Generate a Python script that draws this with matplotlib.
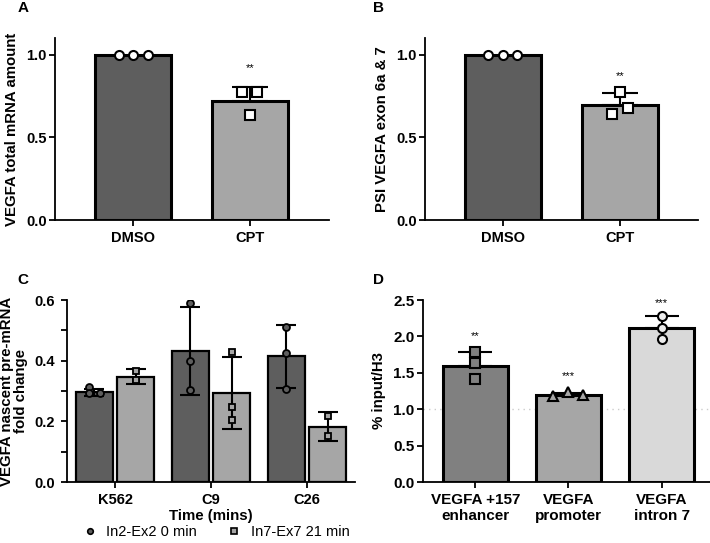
import numpy as np
import matplotlib.pyplot as plt

plt.rcParams['font.family'] = ['Liberation Sans', 'DejaVu Sans']

# ---- data ----
ab_groups = ["DMSO", "CPT"]
a_means = [1.0, 0.72]
a_err_top = [1.0, 0.806]
a_dmso_pts = [1.0, 1.0, 1.0]
a_cpt_pts = [0.772, 0.772, 0.636]

b_means = [1.0, 0.695]
b_err_top = [1.0, 0.766]
b_dmso_pts = [1.0, 1.0, 1.0]
b_cpt_pts = [0.772, 0.68, 0.642]

c_groups = ["K562", "C9", "C26"]
c_in2_means = [0.296, 0.432, 0.415]
c_in2_lo = [0.285, 0.287, 0.31]
c_in2_hi = [0.308, 0.578, 0.518]
c_in2_pts = [[0.313, 0.294, 0.295], [0.59, 0.40, 0.304], [0.512, 0.426, 0.307]]
c_in7_means = [0.347, 0.293, 0.182]
c_in7_lo = [0.322, 0.175, 0.135]
c_in7_hi = [0.372, 0.413, 0.232]
c_in7_pts = [[0.366, 0.333, 0.337], [0.43, 0.248, 0.205], [0.218, 0.152]]

d_groups = ["VEGFA +157\nenhancer", "VEGFA\npromoter", "VEGFA\nintron 7"]
d_means = [1.60, 1.20, 2.11]
d_err_top = [1.79, 1.22, 2.28]
d_pts = [[1.786, 1.63, 1.41], [1.18, 1.24, 1.195], [2.28, 2.12, 1.97]]
d_stars = ["**", "***", "***"]

DARK = "#5e5e5e"
LIGHT = "#a6a6a6"
D_COLORS = ["#808080", "#a6a6a6", "#d9d9d9"]

fig = plt.figure(figsize=(7.1, 5.43), dpi=100)


def style_axes(ax, size=10.5):
    for s in ["top", "right"]:
        ax.spines[s].set_visible(False)
    for s in ["left", "bottom"]:
        ax.spines[s].set_linewidth(1.3)
    ax.tick_params(width=1.3, length=4.5, labelsize=size)
    ax.tick_params(axis="y", pad=1.5)
    for lab in ax.get_xticklabels() + ax.get_yticklabels():
        lab.set_fontweight("bold")


def panel_ab(rect, means, err_top, p0, p1, ylabel, star_y, letter, lx):
    ax = fig.add_axes(rect)
    x = np.arange(len(ab_groups))
    ax.bar(x, means, width=0.65, color=[DARK, LIGHT], edgecolor="black", linewidth=2.2, zorder=2)
    for xi, m, t in zip(x, means, err_top):
        if t > m:
            ax.errorbar(xi, m, yerr=[[0], [t - m]], fmt="none", ecolor="black",
                        elinewidth=1.5, capsize=13, capthick=1.5, zorder=3)
    ax.plot(x[0] + np.array([-0.124, 0, 0.124]), p0, "o", ms=6.5, mfc="white",
            mec="black", mew=1.5, zorder=4)
    offs = [-0.07, 0.06, 0.0] if letter == "A" else [0.0, 0.07, -0.07]
    ax.plot(x[1] + np.array(offs), p1, "s", ms=6.5, mfc="white",
            mec="black", mew=1.5, zorder=4)
    ax.text(x[1], star_y, "**", ha="center", va="center", fontsize=8)
    ax.set_xlim(-0.667, 1.67)
    ax.set_ylim(0, 1.1)
    ax.set_yticks([0, 0.5, 1.0])
    ax.set_yticklabels(["0.0", "0.5", "1.0"])
    ax.set_xticks(x)
    ax.set_xticklabels(ab_groups)
    ax.set_ylabel(ylabel, fontsize=10.8, fontweight="bold", labelpad=5)
    style_axes(ax)
    fig.text(lx, 0.985, letter, fontsize=11, fontweight="bold", va="center")
    return ax


panel_ab([0.0775, 0.5948, 0.3855, 0.335], a_means, a_err_top, a_dmso_pts, a_cpt_pts,
         "VEGFA total mRNA amount", 0.92, "A", 0.025)
panel_ab([0.5986, 0.5948, 0.3845, 0.335], b_means, b_err_top, b_dmso_pts, b_cpt_pts,
         "PSI VEGFA exon 6a & 7", 0.87, "B", 0.525)

# ---- panel C ----
axc = fig.add_axes([0.0944, 0.1123, 0.4056, 0.3352])
xc = np.arange(len(c_groups))
off = 0.215
axc.bar(xc - off, c_in2_means, width=0.39, color=DARK, edgecolor="black", linewidth=1.6, zorder=2)
axc.bar(xc + off, c_in7_means, width=0.39, color=LIGHT, edgecolor="black", linewidth=1.6, zorder=2)
for i in range(len(c_groups)):
    axc.errorbar(xc[i] - off, c_in2_means[i],
                 yerr=[[c_in2_means[i] - c_in2_lo[i]], [c_in2_hi[i] - c_in2_means[i]]],
                 fmt="none", ecolor="black", elinewidth=1.5, capsize=7, capthick=1.5, zorder=3)
    axc.errorbar(xc[i] + off, c_in7_means[i],
                 yerr=[[c_in7_means[i] - c_in7_lo[i]], [c_in7_hi[i] - c_in7_means[i]]],
                 fmt="none", ecolor="black", elinewidth=1.5, capsize=7, capthick=1.5, zorder=3)
    px = np.full(len(c_in2_pts[i]), xc[i] - off)
    if i == 0:
        px = px + np.array([-0.06, -0.06, 0.06])
    axc.plot(px, c_in2_pts[i], "o", ms=5, mfc=DARK, mec="black", mew=1.3, zorder=4)
    axc.plot(np.full(len(c_in7_pts[i]), xc[i] + off), c_in7_pts[i], "s", ms=4.5,
             mfc=LIGHT, mec="black", mew=1.3, zorder=4)
axc.set_xlim(-0.5, 2.5)
axc.set_ylim(0, 0.6)
axc.set_yticks([0, 0.2, 0.4, 0.6])
axc.set_yticklabels(["0.0", "0.2", "0.4", "0.6"])
axc.set_yticks([0.1, 0.3, 0.5], minor=True)
axc.set_xticks(xc)
axc.set_xticklabels(c_groups)
axc.set_xlabel("Time (mins)", fontsize=10.8, fontweight="bold", labelpad=1)
axc.set_ylabel("VEGFA nascent pre-mRNA\nfold change", fontsize=10.8, fontweight="bold",
               labelpad=5, linespacing=1.0)
style_axes(axc)
axc.tick_params(which="minor", length=4.5, width=1.3)
axc.tick_params(axis="y", pad=4)
fig.text(0.025, 0.485, "C", fontsize=11, fontweight="bold", va="center")

h1, = axc.plot([], [], "o", ms=4, mfc=DARK, mec="black", mew=1.2)
h2, = axc.plot([], [], "s", ms=4, mfc=LIGHT, mec="black", mew=1.2)
fig.legend([h1, h2], ["In2-Ex2 0 min", "In7-Ex7 21 min"], loc="center",
           bbox_to_anchor=(0.303, 0.02), ncol=2, frameon=False, fontsize=10.5,
           handletextpad=0.5, columnspacing=2.0, handlelength=1.2)

# ---- panel D ----
axd = fig.add_axes([0.5958, 0.1123, 0.4042, 0.3352])
xd = np.arange(len(d_groups))
axd.axhline(1.0, color="#cccccc", lw=1, ls=(0, (1, 3)), zorder=1)
axd.bar(xd, d_means, width=0.7, color=D_COLORS, edgecolor="black", linewidth=2.2, zorder=2)
for i in range(len(d_groups)):
    axd.errorbar(xd[i], d_means[i], yerr=[[0], [d_err_top[i] - d_means[i]]], fmt="none",
                 ecolor="black", elinewidth=1.5, capsize=12, capthick=1.5, zorder=3)
axd.plot(np.full(3, xd[0]), d_pts[0], "s", ms=6.5, mfc=D_COLORS[0], mec="black", mew=1.5, zorder=4)
axd.plot(xd[1] + np.array([-0.16, 0, 0.16]), d_pts[1], "^", ms=6.5, mfc=D_COLORS[1],
         mec="black", mew=1.5, zorder=4)
axd.plot(np.full(3, xd[2]), d_pts[2], "o", ms=6.5, mfc="#ececec", mec="black", mew=1.5, zorder=4)
star_y = [2.0, 1.46, 2.46]
for i in range(len(d_groups)):
    axd.text(xd[i], star_y[i], d_stars[i], ha="center", va="center", fontsize=8)
axd.set_xlim(-0.56, 2.52)
axd.set_ylim(0, 2.5)
axd.set_yticks([0, 0.5, 1.0, 1.5, 2.0, 2.5])
axd.set_yticklabels(["0.0", "0.5", "1.0", "1.5", "2.0", "2.5"])
axd.set_xticks(xd)
axd.set_xticklabels(d_groups, linespacing=1.15)
axd.set_ylabel("% input/H3", fontsize=10.8, fontweight="bold", labelpad=5)
style_axes(axd, size=11)
fig.text(0.525, 0.485, "D", fontsize=11, fontweight="bold", va="center")

fig.savefig("out.png", dpi=100)
